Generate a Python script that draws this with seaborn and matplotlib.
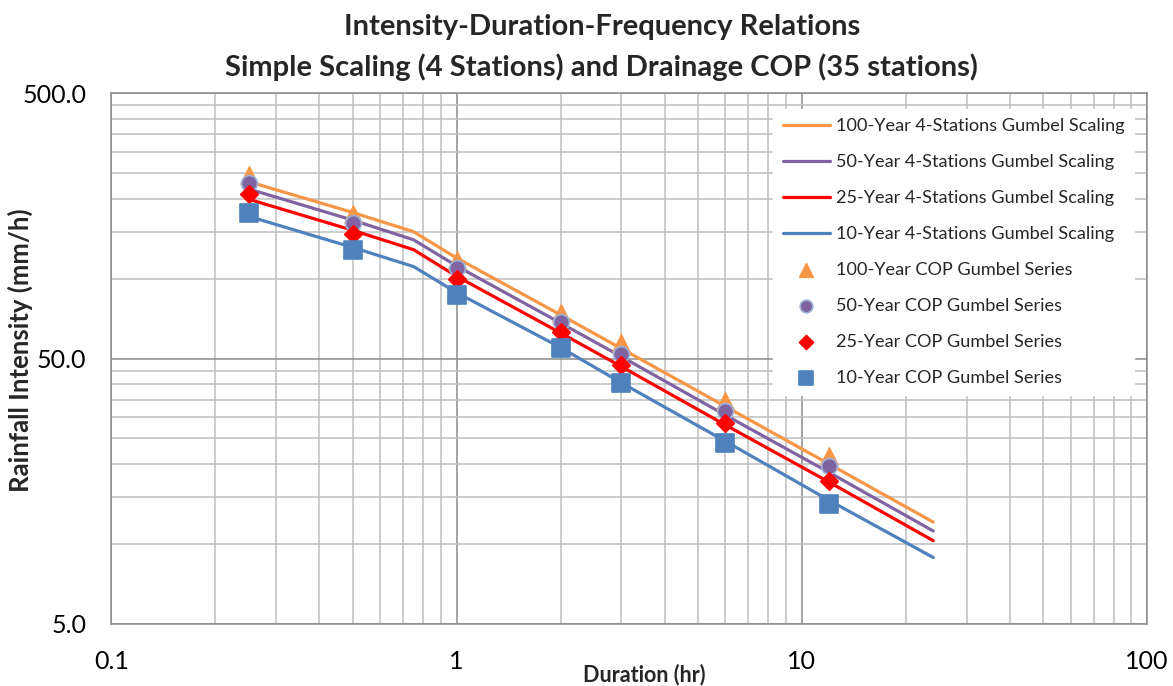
import matplotlib
matplotlib.use("Agg")
import matplotlib.pyplot as plt
import matplotlib.ticker as mticker
import seaborn as sns
import pandas as pd

# Duration (hr) for the scaling curves and for the COP points
dur_line = [0.25, 0.5, 0.75, 1, 2, 3, 6, 12, 24]
dur_cop = [0.25, 0.5, 1, 2, 3, 6, 12]

# 4-stations Gumbel simple scaling (mm/h)
scale_100 = [231.7, 177.4, 150.2, 119.5, 73.0, 54.5, 33.0, 20.0, 12.1]
scale_50 = [217.5, 166.0, 140.0, 111.5, 68.0, 50.8, 30.6, 18.6, 11.2]
scale_25 = [199.0, 152.0, 128.5, 102.0, 62.4, 46.6, 28.1, 17.1, 10.3]
scale_10 = [171.5, 131.0, 111.0, 88.5, 55.0, 40.5, 24.4, 14.6, 8.9]

# Drainage COP Gumbel series (mm/h)
cop_100 = [245.5, 175.2, 117.5, 74.4, 57.0, 34.7, 21.5]
cop_50 = [229.7, 161.5, 109.3, 68.8, 52.0, 31.8, 19.6]
cop_25 = [207.7, 146.8, 99.4, 63.1, 47.3, 28.7, 17.3]
cop_10 = [177.1, 128.2, 86.7, 54.6, 40.3, 24.0, 14.2]

line_labels = ["100-Year 4-Stations Gumbel Scaling", "50-Year 4-Stations Gumbel Scaling",
               "25-Year 4-Stations Gumbel Scaling", "10-Year 4-Stations Gumbel Scaling"]
cop_labels = ["100-Year COP Gumbel Series", "50-Year COP Gumbel Series",
              "25-Year COP Gumbel Series", "10-Year COP Gumbel Series"]

colors = ["#F79646", "#8064A2", "#FF0000", "#4F81BD"]

sns.set_style("white")
plt.rcParams['font.family'] = ['Lato', 'DejaVu Sans']

fig = plt.figure(figsize=(11.73, 6.86), dpi=100)
ax = fig.add_axes([0.095, 0.0904, 0.883, 0.774])

# scaling curves
for vals, lab, col in zip([scale_100, scale_50, scale_25, scale_10], line_labels, colors):
    df = pd.DataFrame({'dur': dur_line, 'val': vals})
    sns.lineplot(data=df, x='dur', y='val', ax=ax, color=col, linewidth=2.3,
                 label=lab, zorder=3)

# COP points
markers = ['^', 'o', 'D', 's']
sizes = [150, 130, 80, 170]
edges = ["#F79646", "#9DB3D8", "#FF0000", "#4F81BD"]
for vals, lab, col, m, s, ec in zip([cop_100, cop_50, cop_25, cop_10], cop_labels,
                                    colors, markers, sizes, edges):
    df = pd.DataFrame({'dur': dur_cop, 'val': vals})
    sns.scatterplot(data=df, x='dur', y='val', ax=ax, color=col, marker=m, s=s,
                    edgecolor=ec, linewidth=1.2, label=lab, zorder=4)

ax.set_xscale('log')
ax.set_yscale('log')
ax.set_xlim(0.1, 100)
ax.set_ylim(5, 500)

ax.xaxis.set_major_locator(mticker.FixedLocator([0.1, 1, 10, 100]))
ax.xaxis.set_major_formatter(mticker.FixedFormatter(["0.1", "1", "10", "100"]))
ax.xaxis.set_minor_locator(mticker.LogLocator(base=10, subs=range(2, 10)))
ax.xaxis.set_minor_formatter(mticker.NullFormatter())

ax.yaxis.set_major_locator(mticker.FixedLocator([5, 50, 500]))
ax.yaxis.set_major_formatter(mticker.FixedFormatter(["5.0", "50.0", "500.0"]))
ax.yaxis.set_minor_locator(mticker.FixedLocator(list(range(10, 50, 5)) + list(range(100, 500, 50))))
ax.yaxis.set_minor_formatter(mticker.NullFormatter())

ax.grid(which='major', color='#8C8C8C', linewidth=1.1)
ax.grid(which='minor', color='#BFBFBF', linewidth=1.1)
ax.set_axisbelow(True)
for sp in ax.spines.values():
    sp.set_color('#8C8C8C')
    sp.set_linewidth(1.1)

ax.tick_params(which='major', direction='out', length=5, color='#8C8C8C',
               labelsize=18, labelcolor='#000000')
ax.tick_params(axis='y', which='major', pad=13)
ax.tick_params(axis='x', which='major', pad=14)
ax.tick_params(which='minor', length=0)

ax.set_xlabel("Duration (hr)", fontsize=15.5, fontweight='bold')
ax.set_ylabel("Rainfall Intensity (mm/h)", fontsize=18.5, fontweight='bold')
ax.xaxis.set_label_coords(0.514, -0.074)
ax.yaxis.set_label_coords(-0.076, 0.516)

fig.suptitle("Intensity-Duration-Frequency Relations\nSimple Scaling (4 Stations) and Drainage COP (35 stations)",
             fontsize=21, fontweight='bold', x=0.513, y=0.98, va='top', linespacing=1.6)

leg = ax.legend(loc='upper right', bbox_to_anchor=(0.996, 0.987), fontsize=13.1,
                frameon=True, facecolor='white', edgecolor='white', framealpha=1,
                fancybox=False, handlelength=2.6, handletextpad=0.35,
                labelspacing=1.1, borderpad=0.5, scatterpoints=1, markerscale=0.8)
leg.set_zorder(5)

fig.savefig("out.png", dpi=100)
